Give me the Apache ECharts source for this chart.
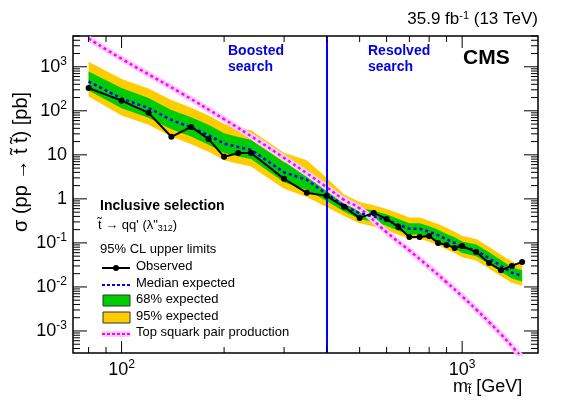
<!DOCTYPE html><html><head><meta charset="utf-8">
<script src="https://cdn.jsdelivr.net/npm/echarts@6/dist/echarts.min.js"></script>
<style>html,body{margin:0;padding:0;background:#fff}#c{width:567px;height:407px}</style></head><body><div id="c"></div>
<script>
const masses = [80,100,120,140,160,180,200,220,240,300,350,400,450,500,550,600,650,700,750,800,850,900,950,1000,1100,1200,1300,1400,1500];
const observed = [330,170,90,25.7,43,23,9,11,11,2.85,1.37,1.17,0.66,0.37,0.48,0.35,0.23,0.137,0.137,0.144,0.10,0.09,0.077,0.085,0.062,0.035,0.024,0.030,0.037];
const expected = [465,190,115,62,42,28,18,15,13,4.0,2.7,1.3,0.7,0.47,0.40,0.33,0.26,0.21,0.21,0.18,0.15,0.12,0.10,0.08,0.068,0.045,0.03,0.021,0.018];
const exp68lo = [290,115,70,38,26,17,11,9.2,8.0,2.4,1.6,0.9,0.52,0.35,0.30,0.245,0.19,0.155,0.155,0.133,0.11,0.089,0.074,0.059,0.05,0.033,0.022,0.0155,0.0133];
const exp68hi = [780,330,195,105,71,48,31,25.5,22,6.8,4.6,2.0,0.95,0.63,0.54,0.45,0.35,0.28,0.28,0.24,0.20,0.16,0.135,0.108,0.092,0.061,0.041,0.028,0.024];
const exp95lo = [210,78,48,26,17.5,11.7,7.5,6.3,5.4,1.7,1.1,0.65,0.41,0.28,0.235,0.194,0.153,0.124,0.124,0.106,0.088,0.071,0.059,0.047,0.04,0.026,0.0176,0.0124,0.0106];
const exp95hi = [1300,530,320,175,118,78,50,42,36,11.2,7.5,3.0,1.26,0.85,0.72,0.59,0.47,0.38,0.38,0.32,0.27,0.22,0.18,0.144,0.122,0.081,0.054,0.038,0.032];
const xsecMass = [80,100,150,200,250,300,350,400,450,500,600,700,800,900,1000,1100,1200,1300,1400,1500];
const xsec = [4400,1521,249,64.5,21.6,8.52,3.79,1.84,0.948,0.609,0.175,0.067,0.0283,0.0128,0.00615,0.00307,0.00159,0.00084,0.000452,0.000247];
const xTickLabels = {100:'10^2',1000:'10^3'};
const yTickLabels = {0.001:'10^-3',0.01:'10^-2',0.1:'10^-1',1:'1',10:'10',100:'10^2',1000:'10^3'};
const boundary = 400;

const FONT='Liberation Sans';
const chart = echarts.init(document.getElementById('c'));
function band(lo,hi,color,z){
  return {type:'custom',z:z,silent:true,data:[0],renderItem:(p,api)=>{
    const pts=[];
    for(let i=0;i<masses.length;i++)pts.push(api.coord([masses[i],hi[i]]));
    for(let i=masses.length-1;i>=0;i--)pts.push(api.coord([masses[i],lo[i]]));
    return {type:'polygon',shape:{points:pts},style:{fill:color},clipPath:{type:'rect',shape:{x:73,y:36,width:465,height:317}}};
  }};
}
const xMinor=[],yMinor=[];
for(let d=10;d<=1000;d*=10)for(let k=1;k<10;k++){const v=d*k;if(v>=72&&v<=1670)xMinor.push(v);}
for(let d=1e-4;d<=1000;d*=10)for(let k=1;k<10;k++){const v=d*k;if(v>=3.16e-4&&v<=5000)yMinor.push(v);}
const ticks={type:'custom',silent:true,z:20,data:[0],renderItem:(p,api)=>{
  const ch=[];
  xMinor.forEach(v=>{const c=api.coord([v,1]);const major=Math.abs(Math.log10(v)%1)<1e-6;const L=major?12:6;
    ch.push({type:'line',shape:{x1:c[0],y1:353,x2:c[0],y2:353-L},style:{stroke:'#000',lineWidth:1}});
    ch.push({type:'line',shape:{x1:c[0],y1:36,x2:c[0],y2:36+L},style:{stroke:'#000',lineWidth:1}});});
  yMinor.forEach(v=>{const c=api.coord([100,v]);const lg=Math.log10(v);const major=Math.abs(lg-Math.round(lg))<1e-6;const L=major?14:7;
    ch.push({type:'line',shape:{x1:73,y1:c[1],x2:73+L,y2:c[1]},style:{stroke:'#000',lineWidth:1}});
    ch.push({type:'line',shape:{x1:538,y1:c[1],x2:538-L,y2:c[1]},style:{stroke:'#000',lineWidth:1}});});
  return {type:'group',children:ch};
}};
function fmt(map){return v=>{for(const k in map){if(Math.abs(Math.log10(v)-Math.log10(+k))<1e-6){const s=map[k];const m=s.split('^');return m.length>1?'{b|'+m[0]+'}{s|'+m[1]+'}':'{b|'+s+'}';}}return '';};}
const rich={b:{fontFamily:FONT,fontSize:18,color:'#000'},s:{fontFamily:FONT,fontSize:12,color:'#000',verticalAlign:'top',padding:[0,0,10,0]}};
chart.setOption({
  animation:false,
  grid:{left:73,right:29,top:36,bottom:54,show:true,borderColor:'#000',borderWidth:1.5,backgroundColor:'#fff'},
  xAxis:{type:'log',logBase:10,min:72,max:1670,axisLine:{show:false},axisTick:{show:false},splitLine:{show:false},
    axisLabel:{formatter:fmt(xTickLabels),rich:rich,margin:6,showMinLabel:false,showMaxLabel:false}},
  yAxis:{type:'log',logBase:10,min:3.16e-4,max:5000,axisLine:{show:false},axisTick:{show:false},splitLine:{show:false},
    axisLabel:{formatter:fmt(yTickLabels),rich:rich,margin:6,showMinLabel:false,showMaxLabel:false}},
  series:[
    band(exp95lo,exp95hi,'#ffcc00',1),
    band(exp68lo,exp68hi,'#00cc00',2),
    {type:'line',z:3,data:xsecMass.map((m,i)=>[m,xsec[i]]),smooth:true,showSymbol:false,lineStyle:{color:'#ffccff',width:6}},
    {type:'line',z:4,data:xsecMass.map((m,i)=>[m,xsec[i]]),smooth:true,showSymbol:false,lineStyle:{color:'#ff00ff',width:2.5,type:[3,3]}},
    {type:'line',z:5,data:masses.map((m,i)=>[m,expected[i]]),showSymbol:false,lineStyle:{color:'#0000ff',width:2.5,type:[3,3]}},
    {type:'line',z:6,data:masses.map((m,i)=>[m,observed[i]]),symbol:'circle',symbolSize:6,itemStyle:{color:'#000'},lineStyle:{color:'#000',width:2},
      markLine:{silent:true,symbol:'none',label:{show:false},lineStyle:{color:'#0000ff',width:2,type:'solid'},data:[{xAxis:boundary}]}},
    ticks
  ],
  graphic:[
    {type:'text',left:'auto',right:29,top:10,style:{text:'{a|35.9 fb}{s|-1}{a| (13 TeV)}',rich:{a:{fontFamily:FONT,fontSize:17,fill:'#000'},s:{fontFamily:FONT,fontSize:11,fill:'#000',verticalAlign:'top',padding:[0,0,8,0]}}}},
    {type:'text',x:463,y:48,style:{text:'CMS',font:'bold 21px "Liberation Sans"',fill:'#000'}},
    {type:'text',x:228,y:43,style:{text:'Boosted\nsearch',font:'bold 14px "Liberation Sans"',fill:'#0000e0',lineHeight:16}},
    {type:'text',x:368,y:43,style:{text:'Resolved\nsearch',font:'bold 14px "Liberation Sans"',fill:'#0000e0',lineHeight:16}},
    {type:'text',x:11,y:232,rotation:Math.PI/2,style:{text:'σ (pp → t̃ t̃) [pb]',font:'20px "Liberation Sans"',fill:'#000'}},
    {type:'text',x:453,y:377,style:{text:'{a|m}{s|t̃}{a| [GeV]}',rich:{a:{fontFamily:FONT,fontSize:18,fill:'#000'},s:{fontFamily:FONT,fontSize:12,fill:'#000',verticalAlign:'bottom',padding:[8,0,0,0]}}}},
    {type:'text',x:100,y:199,style:{text:'Inclusive selection',font:'bold 14px "Liberation Sans"',fill:'#000'}},
    {type:'text',x:98,y:218,style:{text:'{a|t̃ → qq\' (λ"}{s|312}{a|)}',rich:{a:{fontFamily:FONT,fontSize:13,fill:'#000'},s:{fontFamily:FONT,fontSize:9,fill:'#000',padding:[6,0,0,0]}}}},
    {type:'text',x:100,y:243,style:{text:'95% CL upper limits',font:'13px "Liberation Sans"',fill:'#000'}},
    {type:'line',shape:{x1:102,y1:268,x2:130,y2:268},style:{stroke:'#000',lineWidth:2}},
    {type:'circle',shape:{cx:116,cy:268,r:3},style:{fill:'#000'}},
    {type:'text',x:136,y:260,style:{text:'Observed',font:'13px "Liberation Sans"',fill:'#000'}},
    {type:'line',shape:{x1:102,y1:285,x2:130,y2:285},style:{stroke:'#0000ff',lineWidth:2,lineDash:[3,2]}},
    {type:'text',x:136,y:277,style:{text:'Median expected',font:'13px "Liberation Sans"',fill:'#000'}},
    {type:'rect',shape:{x:103,y:295,width:27,height:11},style:{fill:'#00cc00',stroke:'#333',lineWidth:1}},
    {type:'text',x:136,y:293,style:{text:'68% expected',font:'13px "Liberation Sans"',fill:'#000'}},
    {type:'rect',shape:{x:103,y:312,width:27,height:11},style:{fill:'#ffcc00',stroke:'#333',lineWidth:1}},
    {type:'text',x:136,y:310,style:{text:'95% expected',font:'13px "Liberation Sans"',fill:'#000'}},
    {type:'rect',shape:{x:102,y:331,width:28,height:6},style:{fill:'#ffccff'}},
    {type:'line',shape:{x1:102,y1:334,x2:130,y2:334},style:{stroke:'#ff00ff',lineWidth:2,lineDash:[3,2]}},
    {type:'text',x:136,y:326,style:{text:'Top squark pair production',font:'13px "Liberation Sans"',fill:'#000'}}
  ]
});
</script></body></html>
